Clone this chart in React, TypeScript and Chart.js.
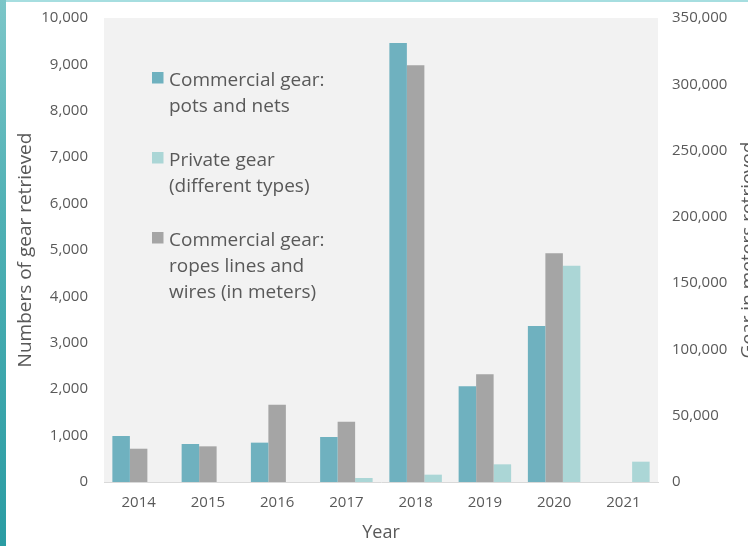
import React, { useEffect, useRef } from "react";
import { Chart, registerables } from "chart.js";

Chart.register(...registerables);

const years = ["2014", "2015", "2016", "2017", "2018", "2019", "2020", "2021"];
const potsAndNets = [991, 819, 848, 970, 9461, 2065, 3362, null];
const privateGear = [null, null, null, 86, 158, 381, 4662, 438];
const ropesMeters = [25100, 26900, 58300, 45500, 314300, 81200, 172500, null];

const seriesPotsLabel = ["Commercial gear:", "pots and nets"];
const seriesPrivateLabel = ["Private gear", "(different types)"];
const seriesRopesLabel = ["Commercial gear:", "ropes lines and", "wires (in meters)"];

const leftTitle = "Numbers of gear retrieved";
const rightTitle = "Gear in meters retrieved";
const xTitle = "Year";

const leftMax = 10000;
const leftStep = 1000;
const rightMax = 350000;
const rightStep = 50000;

const COL_POTS = "#6FB1BF";
const COL_PRIVATE = "#ABD6D6";
const COL_ROPES = "#A5A5A5";
const TEXT = "#595959";
const FONT = "'Open Sans', sans-serif";

const fmt = (v: number) => Number(v).toLocaleString("en-US");

const bgPlugin = {
  id: "plotBg",
  beforeDraw(chart: any) {
    const { ctx, chartArea } = chart;
    ctx.save();
    ctx.fillStyle = "#F2F2F2";
    ctx.fillRect(chartArea.left, chartArea.top, chartArea.right - chartArea.left, chartArea.bottom - chartArea.top);
    ctx.restore();
  },
};

const legendPlugin = {
  id: "customLegend",
  afterDraw(chart: any) {
    const { ctx, chartArea } = chart;
    const entries = [
      { color: COL_POTS, lines: seriesPotsLabel },
      { color: COL_PRIVATE, lines: seriesPrivateLabel },
      { color: COL_ROPES, lines: seriesRopesLabel },
    ];
    const x0 = chartArea.left + 48;
    let y = chartArea.top + 68;
    const lh = 26;
    ctx.save();
    ctx.font = `19px ${FONT}`;
    ctx.textBaseline = "alphabetic";
    ctx.textAlign = "left";
    entries.forEach((e) => {
      ctx.fillStyle = e.color;
      ctx.fillRect(x0, y - 14, 11.5, 11.5);
      ctx.fillStyle = TEXT;
      e.lines.forEach((t, i) => ctx.fillText(t, x0 + 17, y + i * lh));
      y += e.lines.length * lh + 28;
    });
    ctx.restore();
  },
};

const rightTitlePlugin = {
  id: "rightTitle",
  afterDraw(chart: any) {
    const { ctx, chartArea } = chart;
    ctx.save();
    ctx.translate(749, (chartArea.top + chartArea.bottom) / 2);
    ctx.rotate(-Math.PI / 2);
    ctx.font = `19px ${FONT}`;
    ctx.fillStyle = TEXT;
    ctx.textAlign = "center";
    ctx.textBaseline = "middle";
    ctx.fillText(rightTitle, 0, 0);
    ctx.restore();
  },
};

export default function App() {
  const ref = useRef<HTMLCanvasElement | null>(null);

  useEffect(() => {
    document.body.style.margin = "0";
    if (!ref.current) return;
    const chart = new Chart(ref.current, {
      type: "bar",
      data: {
        labels: years,
        datasets: [
          {
            label: seriesPotsLabel.join(" "),
            data: potsAndNets,
            backgroundColor: COL_POTS,
            yAxisID: "y",
            categoryPercentage: 0.758,
            barPercentage: 1,
          },
          {
            label: seriesRopesLabel.join(" "),
            data: ropesMeters,
            backgroundColor: COL_ROPES,
            yAxisID: "y2",
            categoryPercentage: 0.758,
            barPercentage: 1,
          },
          {
            label: seriesPrivateLabel.join(" "),
            data: privateGear,
            backgroundColor: COL_PRIVATE,
            yAxisID: "y",
            categoryPercentage: 0.758,
            barPercentage: 1,
          },
        ],
      },
      options: {
        animation: false,
        responsive: true,
        maintainAspectRatio: false,
        layout: { padding: { top: 18, left: 0, right: 0, bottom: 0 } },
        plugins: {
          legend: { display: false },
          tooltip: { enabled: false },
        },
        scales: {
          x: {
            grid: { display: false, drawTicks: false },
            border: { display: true, color: "#D9D9D9", width: 1 },
            ticks: { color: TEXT, font: { family: FONT, size: 15 }, padding: 12 },
            title: {
              display: true,
              text: xTitle,
              color: TEXT,
              font: { family: FONT, size: 18 },
              padding: { top: 0, bottom: 2 },
            },
            afterFit(scale: any) {
              scale.height = 64;
              scale.paddingLeft = 0;
              scale.paddingRight = 0;
            },
          },
          y: {
            position: "left",
            min: 0,
            max: leftMax,
            grid: { display: false, drawTicks: false },
            border: { display: false },
            ticks: {
              stepSize: leftStep,
              color: TEXT,
              font: { family: FONT, size: 15 },
              padding: 16,
              callback: (v: any) => fmt(v),
            },
            title: {
              display: true,
              text: leftTitle,
              color: TEXT,
              font: { family: FONT, size: 19 },
              padding: { top: 14, bottom: 0 },
            },
            afterFit(scale: any) {
              scale.width = 104;
              scale.paddingTop = 0;
              scale.paddingBottom = 0;
            },
          },
          y2: {
            position: "right",
            min: 0,
            max: rightMax,
            grid: { display: false, drawTicks: false },
            border: { display: false },
            ticks: {
              stepSize: rightStep,
              color: TEXT,
              font: { family: FONT, size: 15 },
              padding: 14,
              callback: (v: any) => fmt(v),
            },
            afterFit(scale: any) {
              scale.width = 90;
              scale.paddingTop = 0;
              scale.paddingBottom = 0;
            },
          },
        },
      },
      plugins: [bgPlugin, legendPlugin, rightTitlePlugin],
    } as any);
    return () => chart.destroy();
  }, []);

  return (
    <div style={{ position: "relative", width: 748, height: 546, overflow: "hidden", background: "#fff" }}>
      <div
        style={{
          position: "absolute",
          left: 0,
          top: 0,
          width: 6,
          height: 546,
          background: "linear-gradient(180deg, #7CC6C8 0%, #4FB0B4 40%, #2A9CA3 100%)",
        }}
      />
      <div style={{ position: "absolute", left: 6, top: 0, width: 742, height: 2, background: "#A6DEE0" }} />
      <canvas ref={ref} style={{ position: "absolute", left: 0, top: 0 }} />
    </div>
  );
}
